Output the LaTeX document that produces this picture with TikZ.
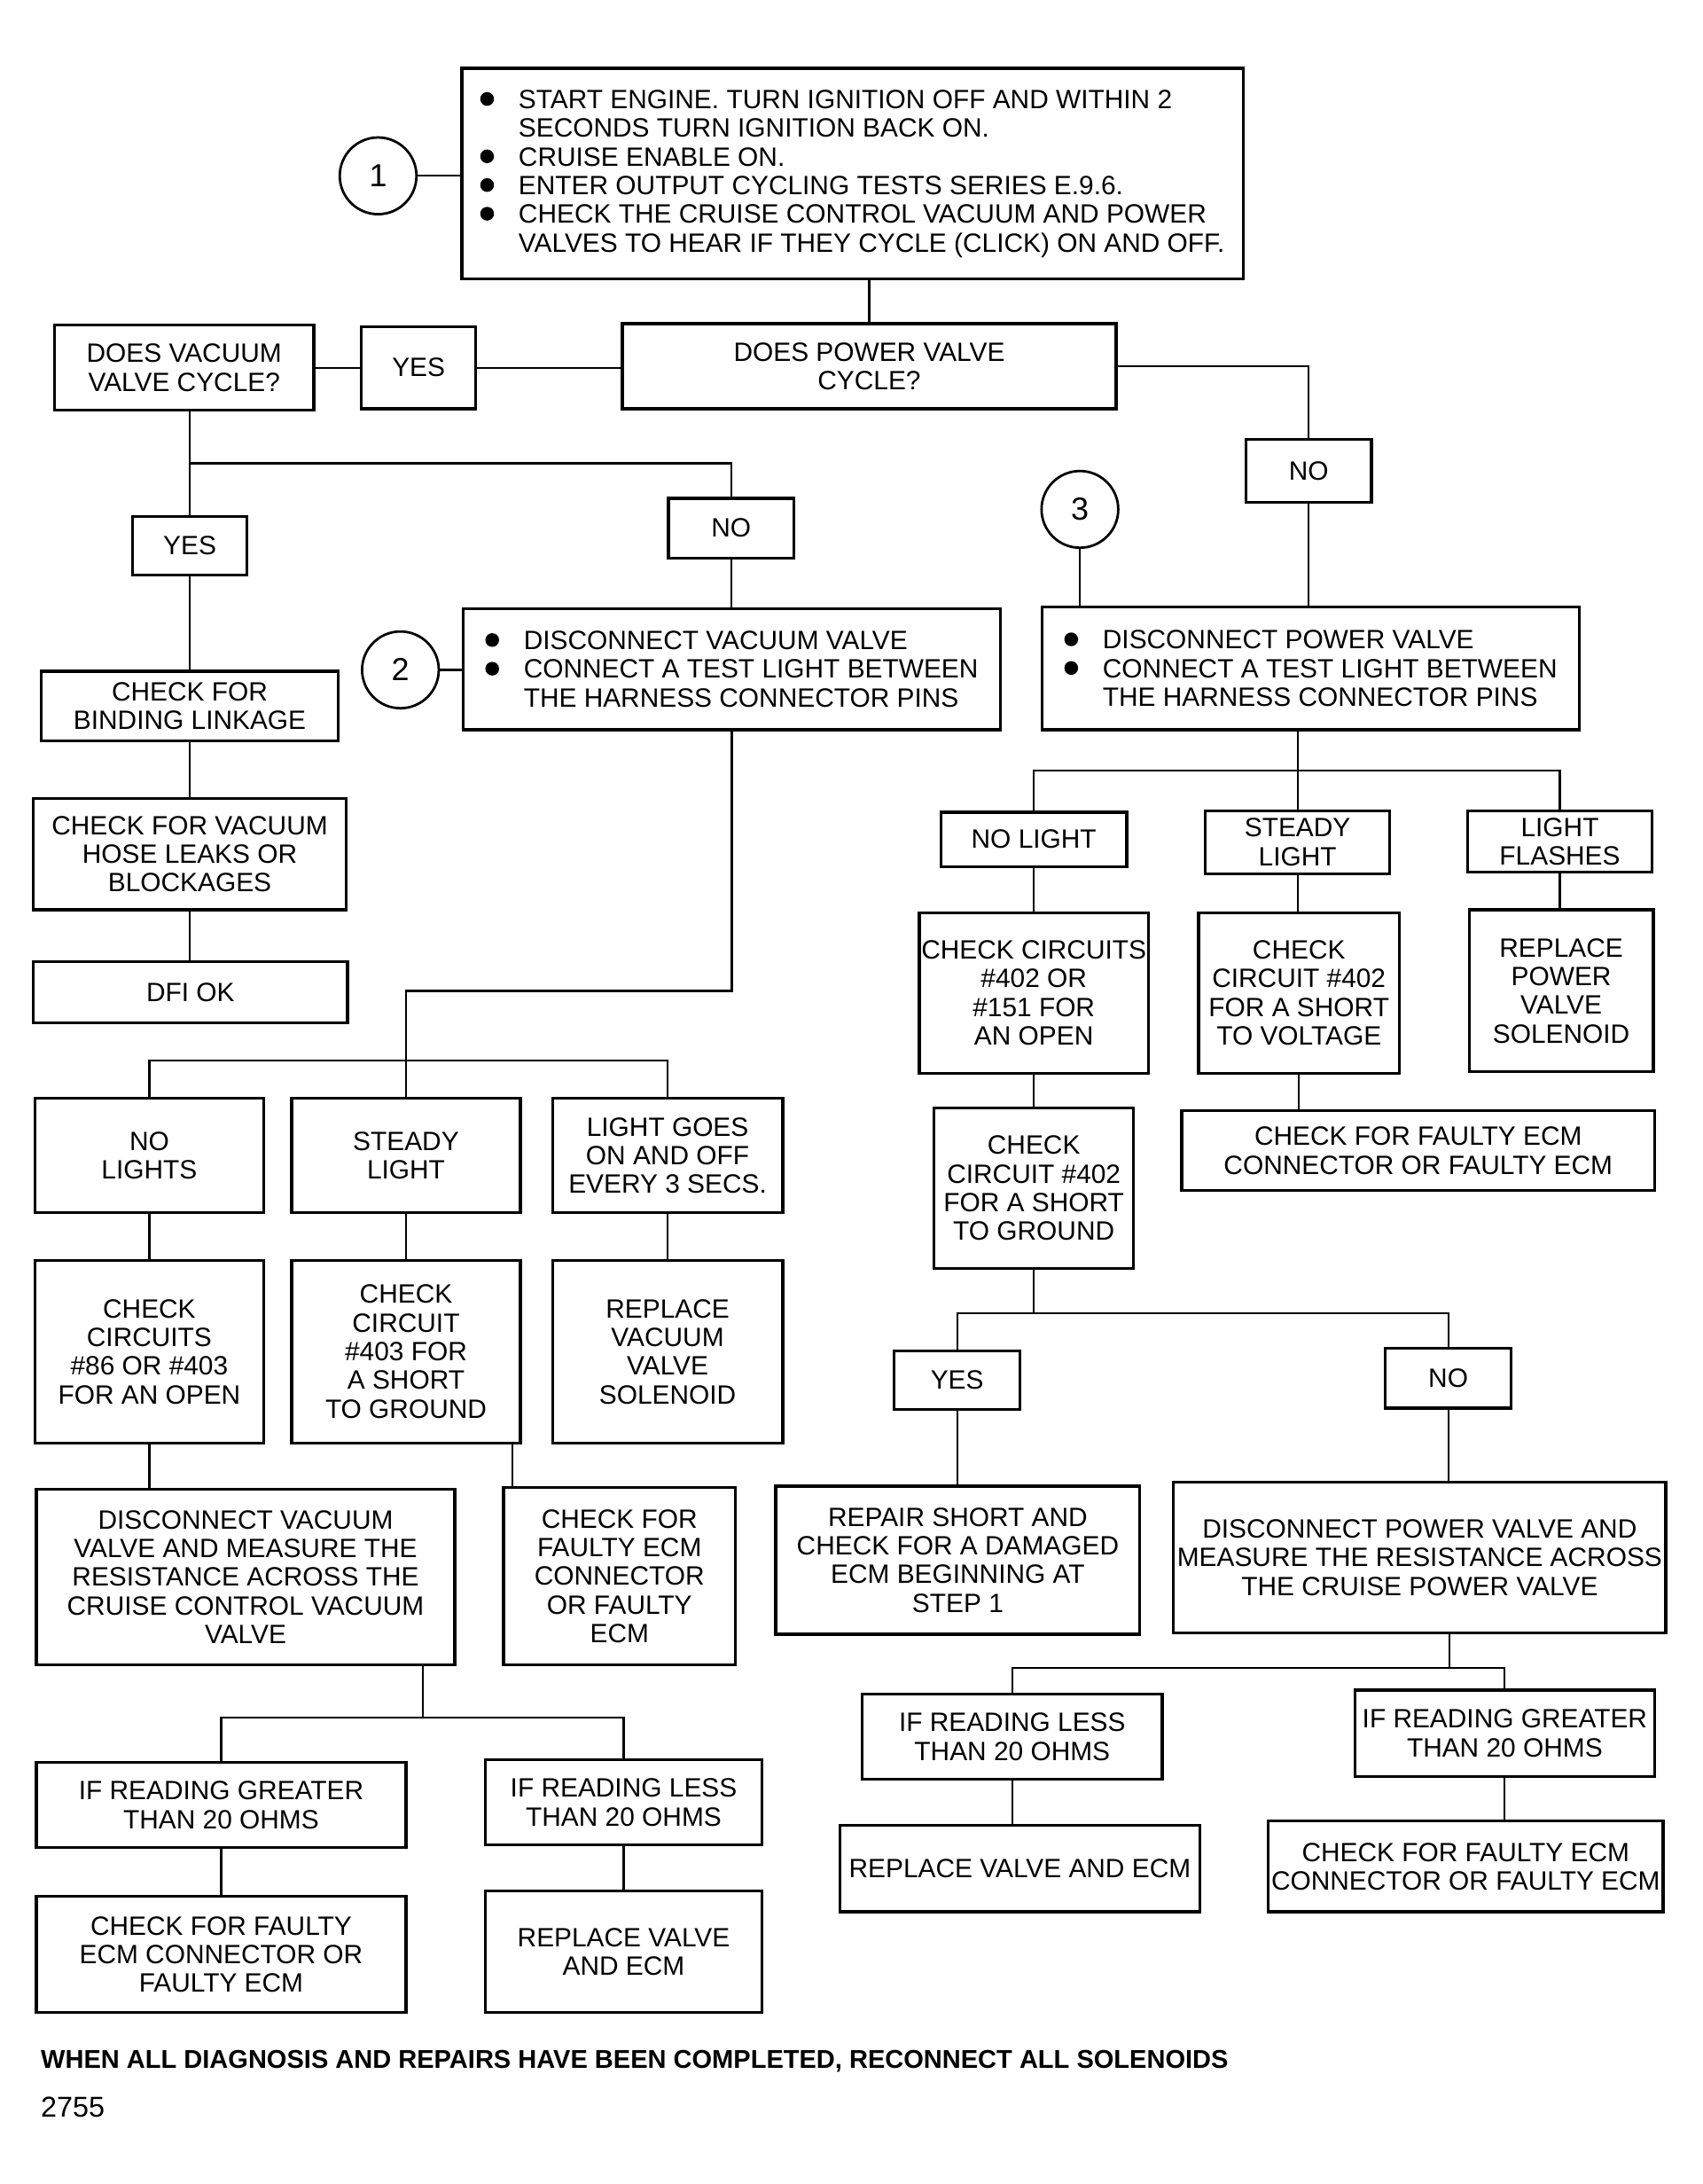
\documentclass[tikz,border=0pt]{standalone}
\usepackage{fontspec}
\setmainfont{Liberation Sans}

\newcommand{\bul}{\makebox[0.55cm][l]{\tikz[baseline=-3.9pt]\fill (2.8pt,0) circle (2.8pt);}}
\newcommand{\hang}{\hspace*{0.55cm}}

\begin{document}
\begin{tikzpicture}[
    x=0.02cm, y=-0.02cm,
    font=\fontsize{10.8}{11.7}\selectfont,
    box/.style={draw, rectangle, line width=1.2pt, inner sep=0pt, align=center},
    sz/.style 2 args={minimum width=#1*0.02cm, minimum height=#2*0.02cm},
    num/.style={draw, circle, line width=1pt, inner sep=0pt, minimum size=1.1cm,
                font=\fontsize{13}{13}\selectfont},
    wire/.style={line width=0.8pt}
]
    \useasboundingbox (0,0) rectangle (1220,1565);

    % Step 1 and the two valve questions
    \node[num] (c1) at (271,126) {1};
    \node[box, align=left, sz={560}{151}] (b1) at (611,124.5)
        {\bul START ENGINE. TURN IGNITION OFF AND WITHIN 2\\
         \hang SECONDS TURN IGNITION BACK ON.\\
         \bul CRUISE ENABLE ON.\\
         \bul ENTER OUTPUT CYCLING TESTS SERIES E.9.6.\\
         \bul CHECK THE CRUISE CONTROL VACUUM AND POWER\\
         \hang VALVES TO HEAR IF THEY CYCLE (CLICK) ON AND OFF.};
    \node[box, sz={186}{61}] (vac) at (132,263.5) {DOES VACUUM\\VALVE CYCLE?};
    \node[box, sz={82}{59}] (yes1) at (300,263.5) {YES};
    \node[box, sz={354}{61}] (pow) at (623,262.5) {DOES POWER VALVE\\CYCLE?};
    \node[box, sz={90}{45}] (no1) at (938,337.5) {NO};

    % Vacuum valve branch
    \node[box, sz={82}{42}] (yes2) at (136,391) {YES};
    \node[box, sz={90}{43}] (no2) at (524,378.5) {NO};
    \node[num] (c2) at (287,480) {2};
    \node[box, align=left, sz={385}{87}] (m1) at (524.5,479.5)
        {\bul DISCONNECT VACUUM VALVE\\
         \bul CONNECT A TEST LIGHT BETWEEN\\
         \hang THE HARNESS CONNECTOR PINS};
    \node[box, sz={213}{50}] (bind) at (136,506) {CHECK FOR\\BINDING LINKAGE};
    \node[box, sz={224}{80}] (hose) at (136,612) {CHECK FOR VACUUM\\HOSE LEAKS OR\\BLOCKAGES};
    \node[box, sz={225}{44}] (dfi) at (136.5,711) {DFI OK};

    \node[box, sz={164}{82}] (nl) at (107,828) {NO\\LIGHTS};
    \node[box, sz={164}{82}] (sl) at (291,828) {STEADY\\LIGHT};
    \node[box, sz={165}{82}] (lg) at (478.5,828) {LIGHT GOES\\ON AND OFF\\EVERY 3 SECS.};
    \node[box, sz={164}{131}] (cc1) at (107,968.5) {CHECK\\CIRCUITS\\\#86 OR \#403\\FOR AN OPEN};
    \node[box, sz={164}{131}] (cc2) at (291,968.5) {CHECK\\CIRCUIT\\\#403 FOR\\A SHORT\\TO GROUND};
    \node[box, sz={165}{131}] (rv) at (478.5,968.5) {REPLACE\\VACUUM\\VALVE\\SOLENOID};
    \node[box, sz={300}{126}] (dv) at (176,1130)
        {DISCONNECT VACUUM\\VALVE AND MEASURE THE\\RESISTANCE ACROSS THE\\CRUISE CONTROL VACUUM\\VALVE};
    \node[box, sz={166}{127}] (cf1) at (444,1129.5) {CHECK FOR\\FAULTY ECM\\CONNECTOR\\OR FAULTY\\ECM};
    \node[box, sz={265}{61}] (rg1) at (158.5,1293.5) {IF READING GREATER\\THAN 20 OHMS};
    \node[box, sz={198}{61}] (rl1) at (447,1291.5) {IF READING LESS\\THAN 20 OHMS};
    \node[box, sz={265}{83}] (cf2) at (158.5,1400.5) {CHECK FOR FAULTY\\ECM CONNECTOR OR\\FAULTY ECM};
    \node[box, sz={198}{87}] (rve1) at (447,1398.5) {REPLACE VALVE\\AND ECM};

    % Power valve branch
    \node[num] (c3) at (774,365) {3};
    \node[box, align=left, sz={385}{88}] (r1) at (939.5,479)
        {\bul DISCONNECT POWER VALVE\\
         \bul CONNECT A TEST LIGHT BETWEEN\\
         \hang THE HARNESS CONNECTOR PINS};
    \node[box, sz={133}{39}] (nl2) at (741,601.5) {NO LIGHT};
    \node[box, sz={132}{45}] (sl2) at (930,603.5) {STEADY\\LIGHT};
    \node[box, sz={132}{44}] (lf) at (1118,603) {LIGHT\\FLASHES};
    \node[box, sz={164}{115}] (cc3) at (741,711.5) {CHECK CIRCUITS\\\#402 OR\\\#151 FOR\\AN OPEN};
    \node[box, sz={144}{115}] (cc4) at (931,711.5) {CHECK\\CIRCUIT \#402\\FOR A SHORT\\TO VOLTAGE};
    \node[box, sz={132}{116}] (rpv) at (1119,710) {REPLACE\\POWER\\VALVE\\SOLENOID};
    \node[box, sz={339}{57}] (cf3) at (1016.5,824.5) {CHECK FOR FAULTY ECM\\CONNECTOR OR FAULTY ECM};
    \node[box, sz={143}{115}] (cc5) at (741,851.5) {CHECK\\CIRCUIT \#402\\FOR A SHORT\\TO GROUND};
    \node[box, sz={90}{42}] (yes3) at (686,989) {YES};
    \node[box, sz={90}{43}] (no3) at (1038,987.5) {NO};
    \node[box, sz={261}{106}] (rs) at (686.5,1118)
        {REPAIR SHORT AND\\CHECK FOR A DAMAGED\\ECM BEGINNING AT\\STEP 1};
    \node[box, sz={353}{108}] (dp) at (1017.5,1116)
        {DISCONNECT POWER VALVE AND\\MEASURE THE RESISTANCE ACROSS\\THE CRUISE POWER VALVE};
    \node[box, sz={215}{61}] (rl2) at (725.5,1244.5) {IF READING LESS\\THAN 20 OHMS};
    \node[box, sz={215}{62}] (rg2) at (1078.5,1242) {IF READING GREATER\\THAN 20 OHMS};
    \node[box, sz={258}{62}] (rve2) at (731,1339) {REPLACE VALVE AND ECM};
    \node[box, sz={283}{65}] (cf4) at (1050.5,1337.5) {CHECK FOR FAULTY ECM\\CONNECTOR OR FAULTY ECM};

    % Footer
    \node[anchor=base west, inner sep=0pt, font=\bfseries\fontsize{10.5}{12}\selectfont] (foot) at (29,1482)
        {WHEN ALL DIAGNOSIS AND REPAIRS HAVE BEEN COMPLETED, RECONNECT ALL SOLENOIDS};
    \node[anchor=base west, inner sep=0pt, font=\fontsize{11.7}{12}\selectfont] (fig) at (29,1517) {2755};

    % Junctions
    \coordinate (j1) at (136,332);
    \coordinate (k2) at (291,710);
    \coordinate (j2) at (291,760);
    \coordinate (j5) at (303,1231);
    \coordinate (j3) at (930,552);
    \coordinate (j4) at (741,941);
    \coordinate (j6) at (1039,1195);

    % Connections
    \draw[wire] (c1) -- (c1 -| b1.west);
    \draw[wire] (pow.north |- b1.south) -- (pow.north);
    \draw[wire] (vac.east) -- (vac.east -| yes1.west);
    \draw[wire] (yes1.east) -- (yes1.east -| pow.west);
    \draw[wire] (pow.east) -| (no1.north);
    \draw[wire] (no1.south) -- (no1.south |- r1.north);
    \draw[wire] (c3) -- (c3 |- r1.north);

    \draw[wire] (j1 |- vac.south) -- (yes2.north);
    \draw[wire] (j1) -| (no2.north);
    \draw[wire] (no2.south) -- (no2.south |- m1.north);
    \draw[wire] (c2) -- (c2 -| m1.west);
    \draw[wire] (yes2.south) -- (bind.north);
    \draw[wire] (bind.south) -- (hose.north);
    \draw[wire] (hose.south) -- (hose.south |- dfi.north);
    \draw[wire] (m1.south) |- (k2) -- (j2);
    \draw[wire] (nl.north) |- (j2) -| (lg.north);
    \draw[wire] (j2) -- (sl.north);
    \draw[wire] (nl.south) -- (cc1.north);
    \draw[wire] (sl.south) -- (cc2.north);
    \draw[wire] (lg.south) -- (rv.north);
    \draw[wire] (cc1.south) -- (cc1.south |- dv.north);
    \draw[wire] ([xshift=-0.14cm]cc2.south east) -- ([xshift=-0.14cm]cc2.south east |- cf1.north);
    \draw[wire] (j5 |- dv.south) -- (j5);
    \draw[wire] (rg1.north) |- (j5) -| (rl1.north);
    \draw[wire] (rg1.south) -- (cf2.north);
    \draw[wire] (rl1.south) -- (rl1.south |- rve1.north);

    \draw[wire] (j3 |- r1.south) -- (sl2.north);
    \draw[wire] (nl2.north) |- (j3) -| (lf.north);
    \draw[wire] (nl2.south) -- (cc3.north);
    \draw[wire] (sl2.south) -- (sl2.south |- cc4.north);
    \draw[wire] (lf.south) -- (lf.south |- rpv.north);
    \draw[wire] (cc4.south) -- (cc4.south |- cf3.north);
    \draw[wire] (cc3.south) -- (cc5.north);
    \draw[wire] (cc5.south) -- (j4);
    \draw[wire] (yes3.north) |- (j4) -| (no3.north);
    \draw[wire] (yes3.south) -- (yes3.south |- rs.north);
    \draw[wire] (no3.south) -- (no3.south |- dp.north);
    \draw[wire] (j6 |- dp.south) -- (j6);
    \draw[wire] (rl2.north) |- (j6) -| (rg2.north);
    \draw[wire] (rl2.south) -- (rl2.south |- rve2.north);
    \draw[wire] (rg2.south) -- (rg2.south |- cf4.north);

\end{tikzpicture}
\end{document}
